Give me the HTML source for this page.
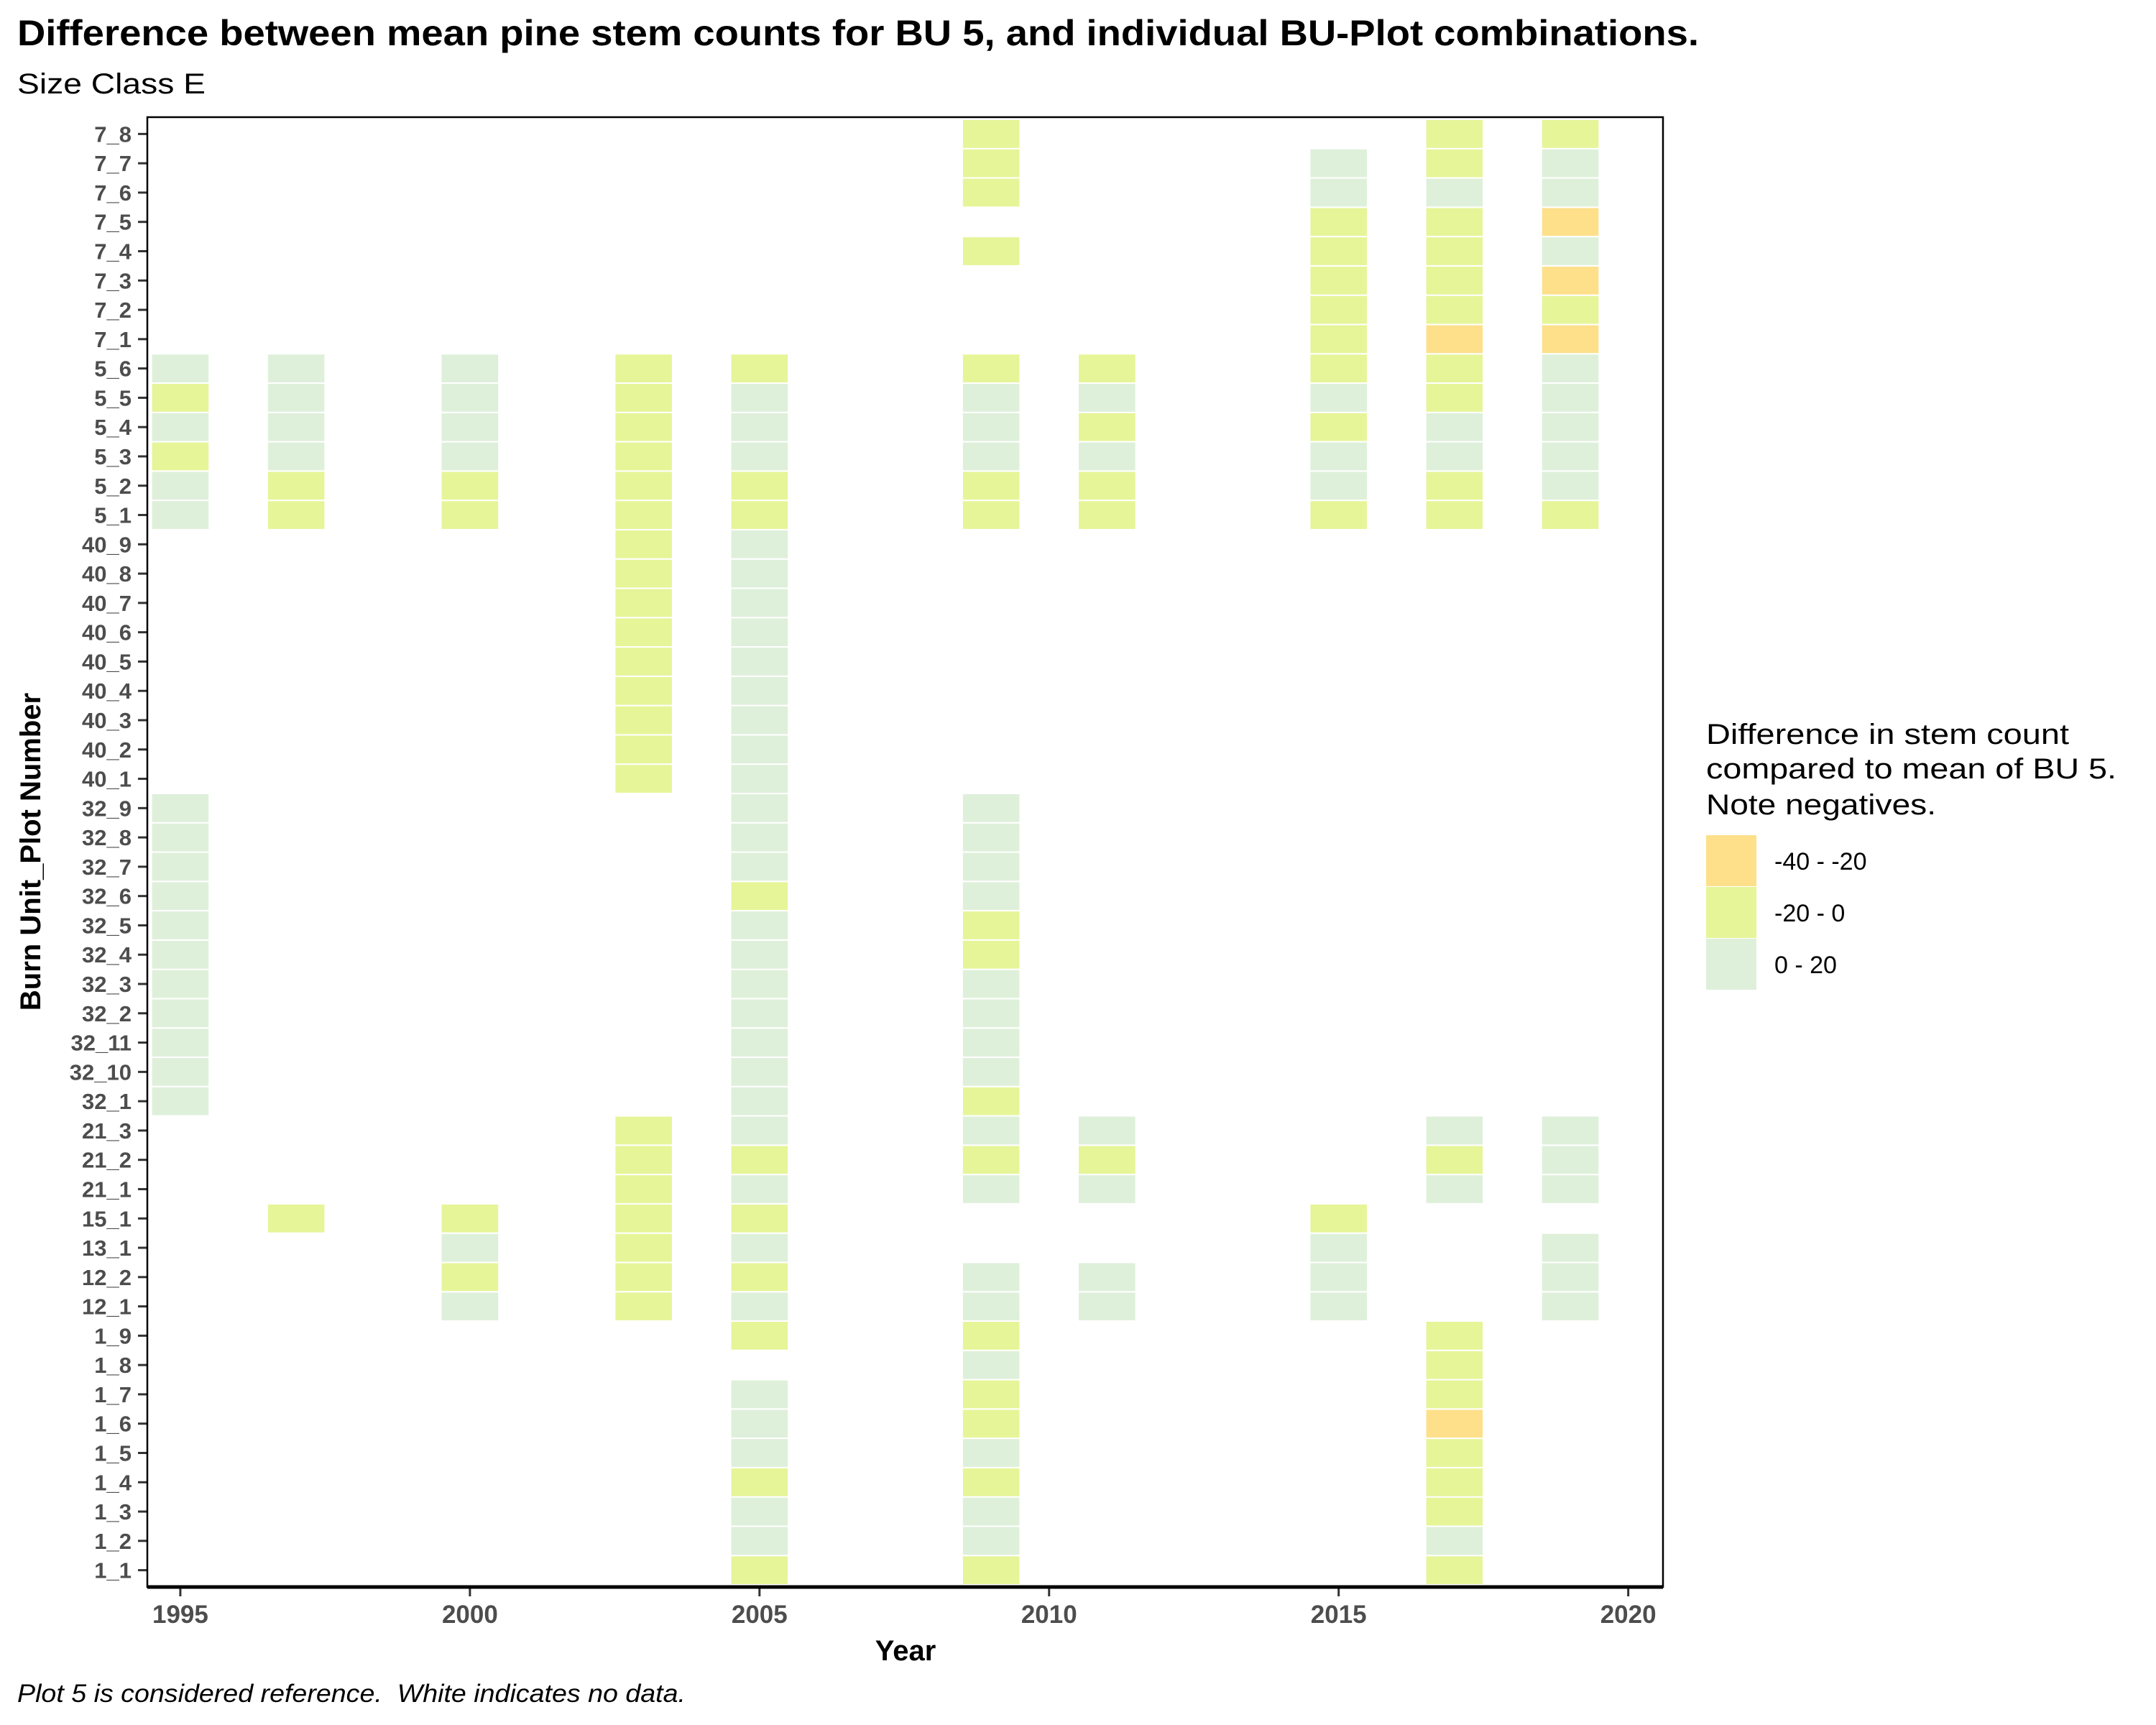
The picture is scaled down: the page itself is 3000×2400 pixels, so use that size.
<!DOCTYPE html>
<html><head><meta charset="utf-8"><style>html,body{margin:0;padding:0;background:#fff}svg{display:block}text{font-family:"Liberation Sans",Arial,sans-serif}</style></head>
<body>
<svg id="chart" xmlns="http://www.w3.org/2000/svg" width="3000" height="2400" viewBox="0 0 3000 2400">
<rect x="0" y="0" width="3000" height="2400" fill="#fff"/>
<text x="24" y="63" font-size="50" font-weight="bold" textLength="2340" lengthAdjust="spacingAndGlyphs">Difference between mean pine stem counts for BU 5, and individual BU-Plot combinations.</text>
<text x="24" y="130" font-size="40" textLength="262" lengthAdjust="spacingAndGlyphs">Size Class E</text>
<g id="tiles"></g>
<g id="axes"></g>
<rect x="205" y="163" width="2109" height="2045" fill="none" stroke="#000" stroke-width="2.5"/>
<line x1="205" y1="2208" x2="2314" y2="2208" stroke="#000" stroke-width="5"/>
<text x="1260" y="2310" font-size="40" font-weight="bold" text-anchor="middle">Year</text>
<text transform="translate(56,1185) rotate(-90)" font-size="40" font-weight="bold" text-anchor="middle">Burn Unit_Plot Number</text>
<text x="24" y="2368" font-size="35" font-style="italic" xml:space="preserve" style="white-space:pre" textLength="930" lengthAdjust="spacingAndGlyphs">Plot 5 is considered reference.  White indicates no data.</text>
<g>
<text font-size="40">
<tspan x="2374" y="1035" textLength="505" lengthAdjust="spacingAndGlyphs">Difference in stem count</tspan>
<tspan x="2374" y="1083" textLength="571" lengthAdjust="spacingAndGlyphs">compared to mean of BU 5.</tspan>
<tspan x="2374" y="1133" textLength="320" lengthAdjust="spacingAndGlyphs">Note negatives.</tspan>
</text>
<rect x="2374" y="1162" width="70" height="71" fill="#FEE08B"/>
<rect x="2374" y="1234" width="70" height="71" fill="#E6F598"/>
<rect x="2374" y="1306" width="70" height="71" fill="#DEF0DA"/>
<text x="2469" y="1210" font-size="34">-40 - -20</text>
<text x="2469" y="1282" font-size="34">-20 - 0</text>
<text x="2469" y="1354" font-size="34">0 - 20</text>
</g>
</svg>
<script>
const plots = ["1_1","1_2","1_3","1_4","1_5","1_6","1_7","1_8","1_9","12_1","12_2","13_1","15_1","21_1","21_2","21_3","32_1","32_10","32_11","32_2","32_3","32_4","32_5","32_6","32_7","32_8","32_9","40_1","40_2","40_3","40_4","40_5","40_6","40_7","40_8","40_9","5_1","5_2","5_3","5_4","5_5","5_6","7_1","7_2","7_3","7_4","7_5","7_6","7_7","7_8"];
const years = [1995,1997,2000,2003,2005,2009,2011,2015,2017,2019];
const xTicks = [1995,2000,2005,2010,2015,2020];
// Difference class per plot: one char per year (O=-40..-20, Y=-20..0, G=0..20, .=no data)
const cells = {
"1_1":"....YY..Y.","1_2":"....GG..G.","1_3":"....GG..Y.","1_4":"....YY..Y.","1_5":"....GG..Y.",
"1_6":"....GY..O.","1_7":"....GY..Y.","1_8":".....G..Y.","1_9":"....YY..Y.",
"12_1":"..GYGGGG.G","12_2":"..YYYGGG.G","13_1":"..GYG..G.G","15_1":".YYYY..Y..",
"21_1":"...YGGG.GG","21_2":"...YYYY.YG","21_3":"...YGGG.GG",
"32_1":"G...GY....","32_10":"G...GG....","32_11":"G...GG....","32_2":"G...GG....","32_3":"G...GG....",
"32_4":"G...GY....","32_5":"G...GY....","32_6":"G...YG....","32_7":"G...GG....","32_8":"G...GG....","32_9":"G...GG....",
"40_1":"...YG.....","40_2":"...YG.....","40_3":"...YG.....","40_4":"...YG.....","40_5":"...YG.....",
"40_6":"...YG.....","40_7":"...YG.....","40_8":"...YG.....","40_9":"...YG.....",
"5_1":"GYYYYYYYYY","5_2":"GYYYYYYGYG","5_3":"YGGYGGGGGG","5_4":"GGGYGGYYGG","5_5":"YGGYGGGGYG","5_6":"GGGYYYYYYG",
"7_1":".......YOO","7_2":".......YYY","7_3":".......YYO","7_4":".....Y.YYG","7_5":".......YYO",
"7_6":".....Y.GGG","7_7":".....Y.GYG","7_8":".....Y..YY"
};
const classColors = {O:"#FEE08B",Y:"#E6F598",G:"#DEF0DA"};
const NS="http://www.w3.org/2000/svg";
const X0=205,X1=2314,Y0=166,Y1=2205;
const yrMin=1994.43,yrMax=2020.6;
function xs(yr){return X0+(yr-yrMin)/(yrMax-yrMin)*(X1-X0);}
const rowH=(Y1-Y0)/plots.length;
function ys(i){return Y1-(i+0.5)*rowH;}
const tiles=document.getElementById('tiles'), axes=document.getElementById('axes');
const yrW=xs(1)-xs(0);
plots.forEach((p,i)=>{
  const s=cells[p];
  years.forEach((yr,j)=>{
    const c=s[j];
    if(!classColors[c])return;
    const r=document.createElementNS(NS,'rect');
    r.setAttribute('x',xs(yr-0.5));r.setAttribute('y',ys(i)-rowH/2);
    r.setAttribute('width',yrW);r.setAttribute('height',rowH);
    r.setAttribute('fill',classColors[c]);r.setAttribute('stroke','#fff');r.setAttribute('stroke-width','2');
    
    
    tiles.appendChild(r);
  });
  const t=document.createElementNS(NS,'text');
  t.setAttribute('x',183);t.setAttribute('y',ys(i)+11);t.setAttribute('text-anchor','end');
  t.setAttribute('font-size','31');t.setAttribute('font-weight','bold');t.setAttribute('fill','#4D4D4D');
  t.textContent=p;
  
  
  axes.appendChild(t);
  const l=document.createElementNS(NS,'line');
  l.setAttribute('x1',192);l.setAttribute('x2',205);l.setAttribute('y1',ys(i));l.setAttribute('y2',ys(i));
  l.setAttribute('stroke','#333');l.setAttribute('stroke-width','3');
  
  
  axes.appendChild(l);
});
xTicks.forEach(yr=>{
  const l=document.createElementNS(NS,'line');
  l.setAttribute('x1',xs(yr));l.setAttribute('x2',xs(yr));l.setAttribute('y1',2208);l.setAttribute('y2',2221);
  l.setAttribute('stroke','#333');l.setAttribute('stroke-width','3');
  
  
  axes.appendChild(l);
  const t=document.createElementNS(NS,'text');
  t.setAttribute('x',xs(yr));t.setAttribute('y',2258);t.setAttribute('text-anchor','middle');
  t.setAttribute('font-size','35');t.setAttribute('font-weight','bold');t.setAttribute('fill','#4D4D4D');
  t.textContent=yr;
  
  
  axes.appendChild(t);
});
</script>
</body></html>
